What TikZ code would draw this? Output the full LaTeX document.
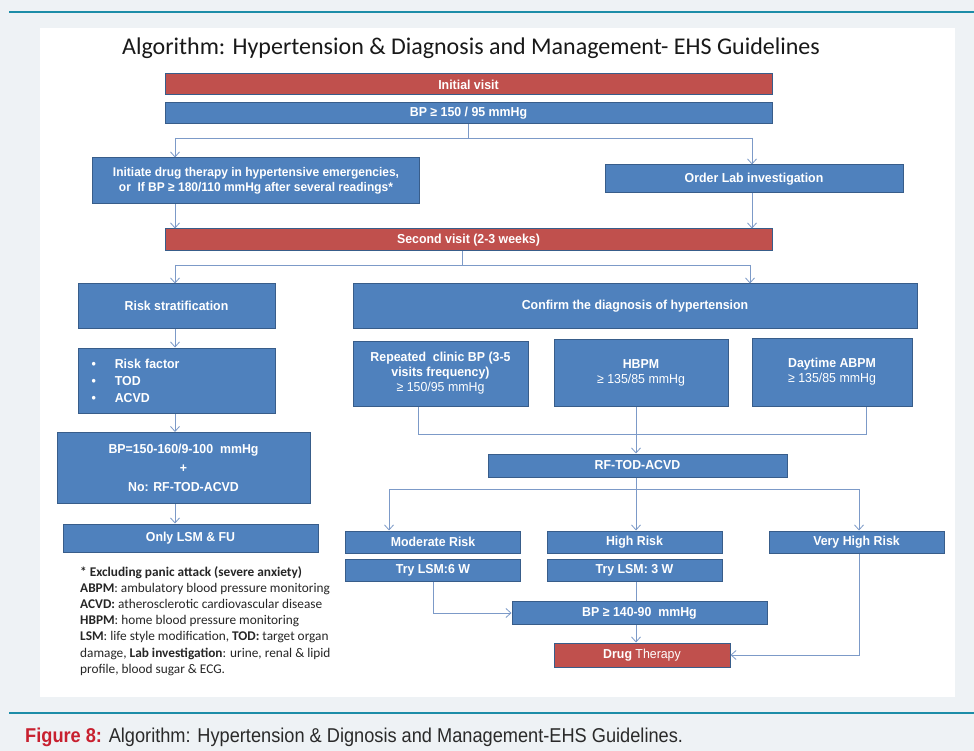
\documentclass[tikz,border=0pt]{standalone}
\usepackage{fontspec}
\setmainfont{Carlito}
\newfontfamily\boxfont[FakeStretch=0.95]{Liberation Sans}
\newfontfamily\capfont[FakeStretch=0.91]{Liberation Sans}
\usetikzlibrary{arrows.meta}
\definecolor{panelbg}{HTML}{EEF2F5}
\definecolor{ruleteal}{HTML}{1D8DA8}
\definecolor{boxblue}{HTML}{4F81BD}
\definecolor{boxred}{HTML}{C0504D}
\definecolor{boxline}{HTML}{385D8A}
\definecolor{linkblue}{HTML}{7C9AC8}
\definecolor{figred}{HTML}{C8202F}
\definecolor{captext}{HTML}{2A2A2A}
\tikzset{
  box/.style={draw=boxline, fill=boxblue, line width=1pt, text=white,
    font=\boxfont\bfseries\fontsize{13}{15}\selectfont, align=center, inner sep=2pt},
  redbox/.style={box, fill=boxred},
  link/.style={draw=linkblue, line width=0.8pt},
  arr/.style={link, -{Straight Barb[length=5pt, width=9pt]}},
  notes/.style={text=black!85, font=\fontsize{13.3}{16.2}\selectfont},
}

\begin{document}
\begin{tikzpicture}[x=1pt, y=-1pt]
  \useasboundingbox (0,0) rectangle (974,751);
  \fill[panelbg] (0,0) rectangle (974,751);
  \fill[white] (40,28) rectangle (955,697);
  \draw[ruleteal, line width=1.5pt] (9,12) -- (974,12);
  \draw[ruleteal, line width=1.5pt] (9,713) -- (974,713);

  \node[text=black!90, font=\fontsize{24}{28}\selectfont] (title) at (471,48)
    {Algorithm: Hypertension \& Diagnosis and Management- EHS Guidelines};

  % first visit
  \node[redbox, minimum width=607pt, minimum height=21pt] (init) at (468.5,84.5) {Initial visit};
  \node[box, minimum width=607pt, minimum height=21pt] (bpa) at (468.5,113.5) {BP ≥ 150 / 95 mmHg};
  \node[box, minimum width=327pt, minimum height=46pt, font=\boxfont\bfseries\fontsize{12.6}{15}\selectfont]
    (initiate) at (256,181)
    {Initiate drug therapy in hypertensive emergencies,\\ or\ \ If BP ≥ 180/110 mmHg after several readings*};
  \node[box, minimum width=298pt, minimum height=28pt] (lab) at (754,179) {Order Lab investigation};
  \node[redbox, minimum width=607pt, minimum height=22pt] (second) at (468.5,240) {Second visit (2-3 weeks)};

  % left column
  \node[box, minimum width=197pt, minimum height=44pt] (risk) at (176.5,306) {Risk stratification};
  \node[box, minimum width=197pt, minimum height=65pt, text width=170pt, align=left,
    font=\boxfont\bfseries\fontsize{13}{17}\selectfont] (factors) at (176.5,380.5)
    {•\hspace{19pt}Risk factor\\ •\hspace{19pt}TOD\\ •\hspace{19pt}ACVD};
  \node[box, minimum width=253pt, minimum height=71pt, font=\boxfont\bfseries\fontsize{13}{19}\selectfont]
    (bprange) at (183.5,468) {BP=150-160/9-100\ \ mmHg\\ +\\ No: RF-TOD-ACVD};
  \node[box, minimum width=255pt, minimum height=28pt] (lsmfu) at (190.5,538) {Only LSM \& FU};

  % right column
  \node[box, minimum width=564pt, minimum height=44pt] (confirm) at (635,306) {Confirm the diagnosis of hypertension};
  \node[box, minimum width=175pt, minimum height=65pt] (clinic) at (440.5,373.5)
    {Repeated\ \ clinic BP (3-5\\ visits frequency)\\ {\mdseries ≥ 150/95 mmHg}};
  \node[box, minimum width=174pt, minimum height=67pt] (hbpm) at (641,372.5) {HBPM\\ {\mdseries ≥ 135/85 mmHg}};
  \node[box, minimum width=160pt, minimum height=68pt] (abpm) at (832,372) {Daytime ABPM\\ {\mdseries ≥ 135/85 mmHg}};
  \node[box, minimum width=299pt, minimum height=23pt] (rfa) at (637.5,465.5) {RF-TOD-ACVD};

  \node[box, minimum width=175pt, minimum height=22pt] (moderate) at (433,542) {Moderate Risk};
  \node[box, minimum width=175pt, minimum height=22pt] (trysix) at (433,570.5) {Try LSM:6 W};
  \node[box, minimum width=175pt, minimum height=22pt] (high) at (634.5,542) {High Risk};
  \node[box, minimum width=175pt, minimum height=22pt] (trythree) at (634.5,570.5) {Try LSM: 3 W};
  \node[box, minimum width=175pt, minimum height=22pt] (veryhigh) at (856.5,542) {Very High Risk};
  \node[box, minimum width=255pt, minimum height=23pt] (bpb) at (639.5,613) {BP ≥ 140-90\ \ mmHg};
  \node[redbox, minimum width=176pt, minimum height=24pt] (drug) at (642,655) {Drug {\mdseries Therapy}};

  % connectors
  \coordinate (s1) at (468.5,138);
  \coordinate (s1l) at (175,138);
  \coordinate (s1r) at (752,138);
  \draw[link] (bpa.south) -- (s1);
  \draw[link] (s1l) -- (s1r);
  \draw[arr] (s1l) -- (s1l |- initiate.north);
  \draw[arr] (s1r) -- (s1r |- lab.north);
  \draw[arr] (s1l |- initiate.south) -- (s1l |- second.north);
  \draw[arr] (s1r |- lab.south) -- (s1r |- second.north);

  \coordinate (s2) at (462,265);
  \coordinate (s2l) at (175,265);
  \coordinate (s2r) at (750,265);
  \draw[link] (s2 |- second.south) -- (s2);
  \draw[link] (s2l) -- (s2r);
  \draw[arr] (s2l) -- (s2l |- risk.north);
  \draw[arr] (s2r) -- (s2r |- confirm.north);
  \draw[arr] (s2l |- risk.south) -- (s2l |- factors.north);
  \draw[arr] (s2l |- factors.south) -- (s2l |- bprange.north);
  \draw[arr] (s2l |- bprange.south) -- (s2l |- lsmfu.north);

  \coordinate (c1) at (418,434);
  \coordinate (c2) at (636,434);
  \coordinate (c3) at (866,434);
  \draw[link] (c1 |- clinic.south) -- (c1) -- (c3) -- (c3 |- abpm.south);
  \draw[arr] (c2 |- hbpm.south) -- (c2 |- rfa.north);

  \coordinate (r1) at (636,489);
  \coordinate (r1l) at (389,489);
  \coordinate (r1r) at (859,489);
  \draw[link] (r1 |- rfa.south) -- (r1);
  \draw[link] (r1l) -- (r1r);
  \draw[arr] (r1l) -- (r1l |- moderate.north);
  \draw[arr] (r1) -- (r1 |- high.north);
  \draw[arr] (r1r) -- (r1r |- veryhigh.north);
  \draw[arr] (trysix.south) |- (bpb.west);
  \draw[link] (r1 |- trythree.south) -- (r1 |- bpb.north);
  \draw[arr] (r1 |- bpb.south) -- (r1 |- drug.north);
  \draw[arr] (r1r |- veryhigh.south) |- (drug.east);

  % notes and caption
  \node[notes, anchor=north west, align=left, inner sep=0pt] (legend) at (80,566)
    {\textbf{* Excluding panic attack (severe anxiety)}\\
     \textbf{ABPM}: ambulatory blood pressure monitoring\\
     \textbf{ACVD:} atherosclerotic cardiovascular disease\\
     \textbf{HBPM}: home blood pressure monitoring\\
     \textbf{LSM}: life style modification, \textbf{TOD:} target organ\\
     damage, \textbf{Lab investigation}: urine, renal \& lipid\\
     profile, blood sugar \& ECG.};
  \node[anchor=west, inner sep=0pt, text=captext, font=\capfont\fontsize{20}{24}\selectfont] (caption) at (25,737)
    {\textcolor{figred}{\bfseries Figure 8:} Algorithm: Hypertension \& Dignosis and Management-EHS Guidelines.};
\end{tikzpicture}
\end{document}
